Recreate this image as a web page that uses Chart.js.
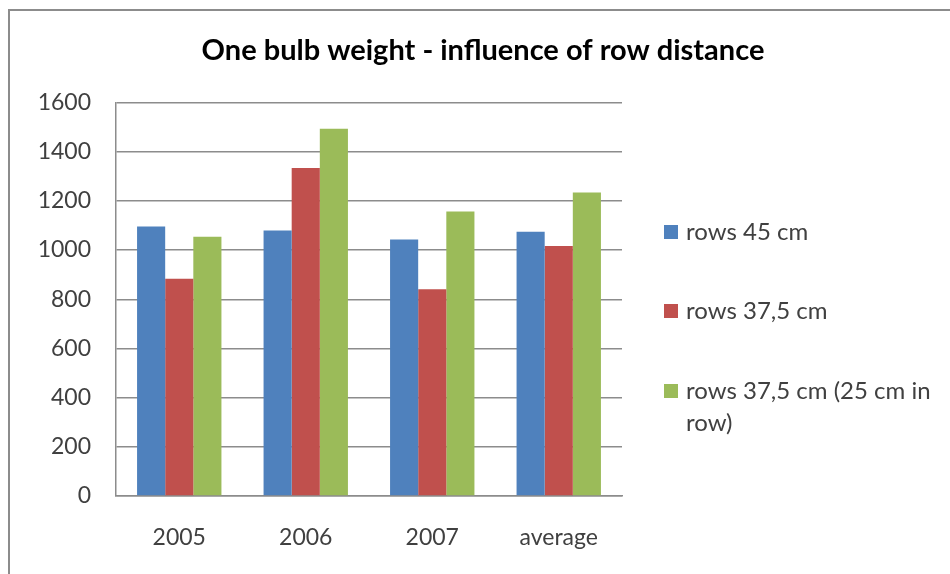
<!DOCTYPE html>
<html>
<head>
<meta charset="utf-8">
<script src="https://cdn.jsdelivr.net/npm/chart.js@4"></script>
<style>
  html, body { margin: 0; padding: 0; background: #fff; width: 950px; height: 574px; overflow: hidden; }
  #frame { position: absolute; left: 8px; top: 9px; width: 1000px; height: 700px; border: 2px solid #8c8c8c; box-sizing: border-box; }
  #wrap { position: absolute; left: 8px; top: 10px; width: 950px; height: 564px; }
</style>
</head>
<body>
<div id="frame"></div>
<div id="wrap"><canvas id="c" width="950" height="564"></canvas></div>
<script>
const chartTitle = "One bulb weight - influence of row distance";
const categories = ["2005", "2006", "2007", "average"];
const seriesNames = ["rows 45 cm", "rows 37,5 cm", "rows 37,5 cm (25 cm in row)"];
const rows45 = [1096, 1080, 1043, 1074];
const rows375 = [883, 1334, 841, 1017];
const rows375in25 = [1054, 1493, 1157, 1234];
const yTicks = [0, 200, 400, 600, 800, 1000, 1200, 1400, 1600];
const seriesColors = ["#4F81BD", "#C0504D", "#9BBB59"];

const FONT = "Lato, 'Open Sans', sans-serif";

const titleLegendPlugin = {
  id: "titleAndLegend",
  afterDraw(chart) {
    const ctx = chart.ctx;
    ctx.save();
    // title
    ctx.font = "bold 29px " + FONT;
    ctx.fillStyle = "#000";
    ctx.textAlign = "center";
    ctx.textBaseline = "middle";
    ctx.fillText(chartTitle, 475, 41);
    // legend
    const rowsY = [222, 301, 381];
    const boxX = 656, textX = 678, maxW = 262, box = 14, lineH = 32;
    ctx.font = "24px " + FONT;
    ctx.textAlign = "left";
    chart.data.datasets.forEach((ds, i) => {
      const y = rowsY[i];
      ctx.fillStyle = ds.backgroundColor;
      ctx.fillRect(boxX, y - box / 2, box, box);
      ctx.fillStyle = "#404040";
      const words = ds.label.split(" ");
      let lines = [], cur = "";
      words.forEach(w => {
        const t = cur ? cur + " " + w : w;
        if (ctx.measureText(t).width > maxW && cur) { lines.push(cur); cur = w; }
        else cur = t;
      });
      if (cur) lines.push(cur);
      lines.forEach((ln, k) => ctx.fillText(ln, textX, y + k * lineH));
    });
    ctx.restore();
  }
};

new Chart(document.getElementById("c"), {
  type: "bar",
  data: {
    labels: categories,
    datasets: [
      { label: seriesNames[0], data: rows45, backgroundColor: seriesColors[0] },
      { label: seriesNames[1], data: rows375, backgroundColor: seriesColors[1] },
      { label: seriesNames[2], data: rows375in25, backgroundColor: seriesColors[2] }
    ]
  },
  options: {
    responsive: false,
    animation: false,
    layout: { padding: { left: 0, right: 336, top: 92.5, bottom: 0 } },
    datasets: { bar: { categoryPercentage: 0.667, barPercentage: 1.0 } },
    plugins: {
      legend: { display: false },
      tooltip: { enabled: false },
      title: { display: false }
    },
    scales: {
      x: {
        grid: { display: false, drawTicks: false },
        border: { display: true, color: "#8c8c8c", width: 1.5 },
        ticks: { color: "#404040", font: { family: FONT, size: 23 }, padding: 28, maxRotation: 0 },
        afterFit(s) { s.height = 78; }
      },
      y: {
        min: 0, max: 1600,
        afterBuildTicks(s) { s.ticks = yTicks.map(v => ({ value: v })); },
        grid: { color: "#8c8c8c", lineWidth: 1.5, drawTicks: false },
        border: { display: true, color: "#8c8c8c", width: 1.5 },
        ticks: { color: "#404040", font: { family: FONT, size: 23 }, padding: 25, callback: v => String(v) },
        afterFit(s) { s.width = 108; }
      }
    }
  },
  plugins: [titleLegendPlugin]
});
</script>
</body>
</html>
